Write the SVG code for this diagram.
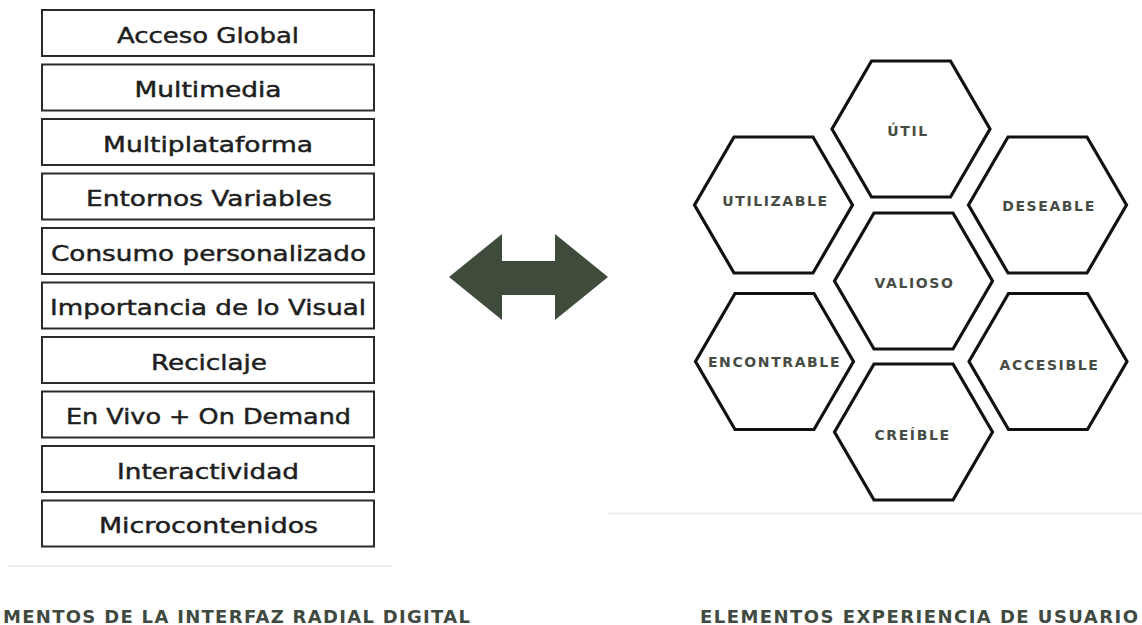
<svg xmlns="http://www.w3.org/2000/svg" width="1142" height="625" viewBox="0 0 1142 625">
<style>
.box{fill:#fff;stroke:#2a2a2a;stroke-width:2}
.bt{font-family:"DejaVu Sans",sans-serif;font-size:21px;fill:#1e1e1e;stroke:#1e1e1e;stroke-width:0.45;text-anchor:middle}
.hex{fill:#fff;stroke:#111;stroke-width:3.2;stroke-linejoin:miter}
.ht{font-family:"DejaVu Sans",sans-serif;font-weight:bold;font-size:14px;letter-spacing:1.6px;fill:#474d45;text-anchor:middle}
.cap{font-family:"DejaVu Sans",sans-serif;font-weight:bold;font-size:18px;fill:#3f4a40}
.sep{stroke:#efefef;stroke-width:2}
</style>
<defs>
<polygon id="hx" points="-79,0 -39.5,-68 39.5,-68 79,0 39.5,68 -39.5,68"/>
</defs>
<rect width="1142" height="625" fill="#fff"/>
<g id="list">
<g id="n1"><rect class="box" x="42" y="10" width="332" height="46"/><text class="bt" x="208" y="42.5" textLength="182" lengthAdjust="spacingAndGlyphs">Acceso Global</text></g>
<g id="n2"><rect class="box" x="42" y="64.5" width="332" height="46"/><text class="bt" x="208" y="97" textLength="147" lengthAdjust="spacingAndGlyphs">Multimedia</text></g>
<g id="n3"><rect class="box" x="42" y="119" width="332" height="46"/><text class="bt" x="208" y="151.5" textLength="210" lengthAdjust="spacingAndGlyphs">Multiplataforma</text></g>
<g id="n4"><rect class="box" x="42" y="173.5" width="332" height="46"/><text class="bt" x="209" y="206" textLength="246" lengthAdjust="spacingAndGlyphs">Entornos Variables</text></g>
<g id="n5"><rect class="box" x="42" y="228" width="332" height="46"/><text class="bt" x="208.5" y="260.5" textLength="315" lengthAdjust="spacingAndGlyphs">Consumo personalizado</text></g>
<g id="n6"><rect class="box" x="42" y="282.5" width="332" height="46"/><text class="bt" x="208" y="315" textLength="316" lengthAdjust="spacingAndGlyphs">Importancia de lo Visual</text></g>
<g id="n7"><rect class="box" x="42" y="337" width="332" height="46"/><text class="bt" x="209" y="369.5" textLength="116" lengthAdjust="spacingAndGlyphs">Reciclaje</text></g>
<g id="n8"><rect class="box" x="42" y="391.5" width="332" height="46"/><text class="bt" x="208.5" y="424" textLength="285" lengthAdjust="spacingAndGlyphs">En Vivo + On Demand</text></g>
<g id="n9"><rect class="box" x="42" y="446" width="332" height="46"/><text class="bt" x="208" y="478.5" textLength="182" lengthAdjust="spacingAndGlyphs">Interactividad</text></g>
<g id="n10"><rect class="box" x="42" y="500.5" width="332" height="46"/><text class="bt" x="208.5" y="533" textLength="219" lengthAdjust="spacingAndGlyphs">Microcontenidos</text></g>
</g>
<line class="sep" x1="8" y1="566" x2="392" y2="566"/>
<line class="sep" x1="608" y1="513.5" x2="1142" y2="513.5"/>
<g id="connectors">
<polygon id="arrow" fill="#3f4b3b" points="449,277 502,234 502,261 555,261 555,234 608,277 555,320 555,295 502,295 502,320"/>
</g>
<g id="h-util"><use href="#hx" class="hex" x="911" y="129"/><text class="ht" x="908" y="136">ÚTIL</text></g>
<g id="h-utilizable"><use href="#hx" class="hex" x="773.5" y="205"/><text class="ht" x="775.5" y="206">UTILIZABLE</text></g>
<g id="h-deseable"><use href="#hx" class="hex" x="1047.5" y="205"/><text class="ht" x="1049" y="210.5">DESEABLE</text></g>
<g id="h-valioso"><use href="#hx" class="hex" x="913.5" y="281"/><text class="ht" x="914.5" y="288">VALIOSO</text></g>
<g id="h-encontrable"><use href="#hx" class="hex" x="774.5" y="361.5"/><text class="ht" x="774.5" y="367">ENCONTRABLE</text></g>
<g id="h-accesible"><use href="#hx" class="hex" x="1048" y="361.5"/><text class="ht" x="1049.5" y="370">ACCESIBLE</text></g>
<g id="h-creible"><use href="#hx" class="hex" x="913.5" y="432"/><text class="ht" x="912.5" y="440">CREÍBLE</text></g>
<text class="cap" x="3" y="623" textLength="467" lengthAdjust="spacing">MENTOS DE LA INTERFAZ RADIAL DIGITAL</text>
<text class="cap" x="700" y="623" textLength="438" lengthAdjust="spacing">ELEMENTOS EXPERIENCIA DE USUARIO</text>
</svg>
